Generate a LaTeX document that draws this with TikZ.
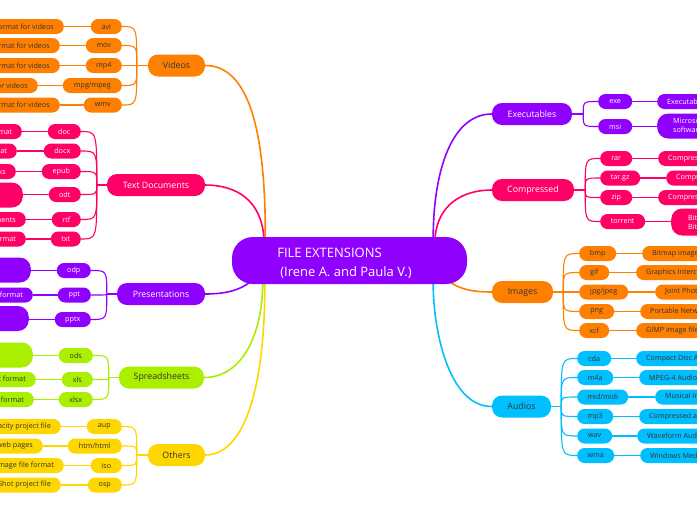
\documentclass[tikz,border=0pt]{standalone}
\usepackage{fontspec}
\setmainfont{Open Sans}
\usetikzlibrary{calc}
\pgfdeclarelayer{bg}
\pgfdeclarelayer{canvas}
\pgfsetlayers{canvas,bg,main}
\definecolor{cOr}{HTML}{FF8000}
\definecolor{cPk}{HTML}{FF0066}
\definecolor{cPu}{HTML}{9000FF}
\definecolor{cLi}{HTML}{AAEE00}
\definecolor{cYe}{HTML}{FFD700}
\definecolor{cCy}{HTML}{00BFFF}
\definecolor{txtD}{HTML}{333333}
\tikzset{
  base/.style={rectangle, inner sep=0pt, align=center},
  root/.style={base, fill=cPu, text=white, minimum width=235pt, minimum height=47pt,
    rounded corners=21pt, align=left, font=\fontsize{13}{19}\selectfont},
  branch/.style={base, minimum height=22pt, rounded corners=10pt, font=\fontsize{8.8}{10}\selectfont},
  ext/.style={base, minimum height=15pt, rounded corners=7.3pt, font=\fontsize{7.2}{8.8}\selectfont},
  lext/.style={ext, anchor=east},
  rext/.style={ext, anchor=west},
  lleaf/.style={ext, anchor=east, inner xsep=10pt},
  rleaf/.style={ext, anchor=west, inner xsep=10pt},
  tall/.style={minimum height=25pt, rounded corners=11pt},
  gOr/.style={fill=cOr, text=txtD},
  gPk/.style={fill=cPk, text=white},
  gPu/.style={fill=cPu, text=white},
  gLi/.style={fill=cLi, text=txtD},
  gYe/.style={fill=cYe, text=txtD},
  gCy/.style={fill=cCy, text=txtD},
  mainline/.style={line width=1.6pt},
  subline/.style={line width=1.1pt}
}
\begin{document}
\begin{tikzpicture}[x=1pt,y=-1pt]
\useasboundingbox (0,0) rectangle (697,520);
\begin{pgfonlayer}{canvas}
\fill[white] (0,0) rectangle (697,520);
\end{pgfonlayer}
\begin{scope}
\clip (0,0) rectangle (697,520);
% root
\node[root] (root) at (349.5,260.5) {\rule{0pt}{15pt}FILE EXTENSIONS\\\hspace*{3pt}(Irene A. and Paula V.)\hspace*{10pt}};

% ---------- Videos
\node[branch,gOr,minimum width=57pt] (videos) at (176.5,65.5) {Videos};
\node[lext,gOr,minimum width=31pt] (avi) at (122,26.5) {avi};
\node[lext,gOr,minimum width=36pt] (mov) at (122,45.5) {mov};
\node[lext,gOr,minimum width=36pt] (mpfour) at (122,65.5) {mp4};
\node[lext,gOr,minimum width=59pt] (mpg) at (122,85.5) {mpg/mpeg};
\node[lext,gOr,minimum width=38pt] (wmv) at (122,105) {wmv};
\node[lleaf,gOr] (avil) at (64,26.5) {format for videos};
\node[lleaf,gOr] (movl) at (60,45.5) {format for videos};
\node[lleaf,gOr] (mpfourl) at (60,65.5) {format for videos};
\node[lleaf,gOr] (mpgl) at (38,85.5) {for videos};
\node[lleaf,gOr] (wmvl) at (60,105) {format for videos};

% ---------- Text Documents
\node[branch,gPk,minimum width=98pt] (textdocs) at (156,185) {Text Documents};
\node[lext,gPk,minimum width=33pt] (doc) at (81,131.5) {doc};
\node[lext,gPk,minimum width=37pt] (docx) at (81,151) {docx};
\node[lext,gPk,minimum width=39pt] (epub) at (81,171.5) {epub};
\node[lext,gPk,minimum width=32pt] (odt) at (81,194.5) {odt};
\node[lext,gPk,minimum width=29pt] (rtf) at (81,219.5) {rtf};
\node[lext,gPk,minimum width=30pt] (txt) at (81,239) {txt};
\node[lleaf,gPk] (docl) at (22,131.5) {format};
\node[lleaf,gPk] (docxl) at (17,151) {format};
\node[lleaf,gPk] (epubl) at (16,171.5) {ebooks};
\node[lleaf,gPk,tall,minimum width=90pt] (odtl) at (23,195) {};
\node[lleaf,gPk] (rtfl) at (26,219.5) {documents};
\node[lleaf,gPk] (txtl) at (26,239) {format};

% ---------- Presentations
\node[branch,gPu,minimum width=88pt] (pres) at (161,294) {Presentations};
\node[lext,gPu,minimum width=34pt] (odp) at (91,270.5) {odp};
\node[lext,gPu,minimum width=33pt] (ppt) at (91,295) {ppt};
\node[lext,gPu,minimum width=36pt] (pptx) at (91,319.5) {pptx};
\node[lleaf,gPu,tall,minimum width=90pt] (odpl) at (31,270) {};
\node[lleaf,gPu] (pptl) at (33,295) {format};
\node[lleaf,gPu,tall,minimum width=90pt] (pptxl) at (29,318.5) {};

% ---------- Spreadsheets
\node[branch,gLi,minimum width=85pt] (sheets) at (161.5,377.5) {Spreadsheets};
\node[lext,gLi,minimum width=34pt] (ods) at (93,355.5) {ods};
\node[lext,gLi,minimum width=31pt] (xls) at (93,379.5) {xls};
\node[lext,gLi,minimum width=34pt] (xlsx) at (93,399.5) {xlsx};
\node[lleaf,gLi,tall,minimum width=90pt] (odsl) at (33,355) {};
\node[lleaf,gLi] (xlsl) at (36,379.5) {spreadsheet format};
\node[lleaf,gLi] (xlsxl) at (34,399.5) {format};

% ---------- Others
\node[branch,gYe,minimum width=57pt] (others) at (176.5,455) {Others};
\node[lext,gYe,minimum width=35pt] (aup) at (122,426.5) {aup};
\node[lext,gYe,minimum width=54pt] (htm) at (122,446) {htm/html};
\node[lext,gYe,minimum width=31pt] (iso) at (122,465.5) {iso};
\node[lext,gYe,minimum width=34pt] (osp) at (122,485) {osp};
\node[lleaf,gYe] (aupl) at (61,426.5) {Audacity project file};
\node[lleaf,gYe] (html) at (43,446) {Format for web pages};
\node[lleaf,gYe] (isol) at (64,465.5) {Disc image file format};
\node[lleaf,gYe] (ospl) at (61,485) {OpenShot project file};

% ---------- Executables
\node[branch,gPu,minimum width=80pt] (execs) at (532,114) {Executables};
\node[rext,gPu,minimum width=34pt] (exe) at (598,101.5) {exe};
\node[rext,gPu,minimum width=34pt] (msi) at (598,126.5) {msi};
\node[rleaf,gPu] (exel) at (657,101.5) {Executable file};
\node[rleaf,gPu,tall,inner xsep=16pt,align=left] (msil) at (657,126) {Microsoft installer\\software package};

% ---------- Compressed
\node[branch,gPk,minimum width=82pt] (compr) at (533,190) {Compressed};
\node[rext,gPk,minimum width=32pt] (rar) at (600,158.5) {rar};
\node[rext,gPk,minimum width=40pt] (targz) at (600,178) {tar.gz};
\node[rext,gPk,minimum width=32pt] (zip) at (600,197.5) {zip};
\node[rext,gPk,minimum width=45pt] (torrent) at (600,221.5) {torrent};
\node[rleaf,gPk] (rarl) at (658,158.5) {Compressed file};
\node[rleaf,gPk] (targzl) at (666,178) {Compressed file};
\node[rleaf,gPk] (zipl) at (658,197.5) {Compressed file};
\node[rleaf,gPk,tall,minimum height=27pt,inner xsep=17pt,align=left] (torrentl) at (671,222) {BitTorrent file\\BitTorrent client};

% ---------- Images
\node[branch,gOr,minimum width=61pt] (images) at (522.5,292) {Images};
\node[rext,gOr,minimum width=37pt] (bmp) at (579,253.5) {bmp};
\node[rext,gOr,minimum width=30pt] (gif) at (579,272.5) {gif};
\node[rext,gOr,minimum width=49pt] (jpg) at (579,292) {jpg/jpeg};
\node[rext,gOr,minimum width=35pt] (png) at (579,311.5) {png};
\node[rext,gOr,minimum width=30pt] (xcf) at (579,330.5) {xcf};
\node[rleaf,gOr] (bmpl) at (642,253.5) {Bitmap image file};
\node[rleaf,gOr] (gifl) at (636,272.5) {Graphics Interchange Format};
\node[rleaf,gOr] (jpgl) at (655,292) {Joint Photographic Experts Group};
\node[rleaf,gOr] (pngl) at (640,311.5) {Portable Network Graphics};
\node[rleaf,gOr] (xcfl) at (636,330.5) {GIMP image file};

% ---------- Audios
\node[branch,gCy,minimum width=59pt] (audios) at (521.5,406.5) {Audios};
\node[rext,gCy,minimum width=34pt] (cda) at (577,358.5) {cda};
\node[rext,gCy,minimum width=36pt] (mfoura) at (577,377.5) {m4a};
\node[rext,gCy,minimum width=51pt] (mid) at (577,397) {mid/midi};
\node[rext,gCy,minimum width=36pt] (mpthree) at (577,416.5) {mp3};
\node[rext,gCy,minimum width=35pt] (wav) at (577,436) {wav};
\node[rext,gCy,minimum width=37pt] (wma) at (577,455.5) {wma};
\node[rleaf,gCy] (cdal) at (636,358.5) {Compact Disc Audio};
\node[rleaf,gCy] (mfoural) at (639,377.5) {MPEG-4 Audio};
\node[rleaf,gCy] (midl) at (655,397) {Musical Instrument Digital Interface};
\node[rleaf,gCy] (mpthreel) at (639,416.5) {Compressed audio};
\node[rleaf,gCy] (wavl) at (637,436) {Waveform Audio};
\node[rleaf,gCy] (wmal) at (640,455.5) {Windows Media Audio};
\end{scope}

\begin{pgfonlayer}{bg}
% main connectors
\draw[mainline,cOr] (videos.east) .. controls (247,65.5) and (265.5,125) .. ($(root.north west)+(33.5,0)$);
\draw[mainline,cPk] (textdocs.east) .. controls (236,185) and (261,200) .. ($(root.north west)+(32,0)$);
\draw[mainline,cPu] (pres.east) .. controls (226,294) and (240,290) .. ($(root.south west)+(18,-2)$);
\draw[mainline,cLi] (sheets.east) .. controls (242,377.5) and (262,335) .. ($(root.south west)+(31,0)$);
\draw[mainline,cYe] (others.east) .. controls (247,455) and (265,380) .. ($(root.south west)+(33,0)$);
\draw[mainline,cPu] (execs.west) .. controls (452,114) and (433.5,170) .. ($(root.north east)+(-34,0)$);
\draw[mainline,cPk] (compr.west) .. controls (462,190) and (438,205) .. ($(root.north east)+(-32,0)$);
\draw[mainline,cOr] (images.west) .. controls (472,292) and (460,289) .. ($(root.south east)+(-17,-2)$);
\draw[mainline,cCy] (audios.west) .. controls (447,406.5) and (433,325) .. ($(root.south east)+(-34,0)$);

% junctions
\coordinate (jV) at ($(videos.west)+(-11,0)$);
\coordinate (jT) at ($(textdocs.west)+(-10,0)$);
\coordinate (jP) at ($(pres.west)+(-10,0)$);
\coordinate (jS) at ($(sheets.west)+(-10,0)$);
\coordinate (jO) at ($(others.west)+(-11,0)$);
\coordinate (jE) at ($(execs.east)+(11,0)$);
\coordinate (jC) at ($(compr.east)+(11,0)$);
\coordinate (jI) at ($(images.east)+(10,0)$);
\coordinate (jA) at ($(audios.east)+(10,0)$);

\draw[subline,cOr] (videos.west) -- (jV);
\foreach \c in {avi,mov,mpfour,mpg,wmv}{
  \draw[subline,cOr] (\c.east) .. controls (jV |- \c.east) .. (jV);
  \draw[subline,cOr] (\c.west) -- (\c l.east);}
\draw[subline,cPk] (textdocs.west) -- (jT);
\foreach \c in {doc,docx,epub,odt,rtf,txt}{
  \draw[subline,cPk] (\c.east) .. controls (jT |- \c.east) .. (jT);
  \draw[subline,cPk] (\c.west) -- (\c l.east |- \c.west);}
\draw[subline,cPu] (pres.west) -- (jP);
\foreach \c in {odp,ppt,pptx}{
  \draw[subline,cPu] (\c.east) .. controls (jP |- \c.east) .. (jP);
  \draw[subline,cPu] (\c.west) -- (\c l.east |- \c.west);}
\draw[subline,cLi] (sheets.west) -- (jS);
\foreach \c in {ods,xls,xlsx}{
  \draw[subline,cLi] (\c.east) .. controls (jS |- \c.east) .. (jS);
  \draw[subline,cLi] (\c.west) -- (\c l.east |- \c.west);}
\draw[subline,cYe] (others.west) -- (jO);
\foreach \c in {aup,htm,iso,osp}{
  \draw[subline,cYe] (\c.east) .. controls (jO |- \c.east) .. (jO);
  \draw[subline,cYe] (\c.west) -- (\c l.east);}
\draw[subline,cPu] (execs.east) -- (jE);
\foreach \c in {exe,msi}{
  \draw[subline,cPu] (\c.west) .. controls (jE |- \c.west) .. (jE);
  \draw[subline,cPu] (\c.east) -- (\c l.west |- \c.east);}
\draw[subline,cPk] (compr.east) -- (jC);
\foreach \c in {rar,targz,zip,torrent}{
  \draw[subline,cPk] (\c.west) .. controls (jC |- \c.west) .. (jC);
  \draw[subline,cPk] (\c.east) -- (\c l.west |- \c.east);}
\draw[subline,cOr] (images.east) -- (jI);
\foreach \c in {bmp,gif,jpg,png,xcf}{
  \draw[subline,cOr] (\c.west) .. controls (jI |- \c.west) .. (jI);
  \draw[subline,cOr] (\c.east) -- (\c l.west);}
\draw[subline,cCy] (audios.east) -- (jA);
\foreach \c in {cda,mfoura,mid,mpthree,wav,wma}{
  \draw[subline,cCy] (\c.west) .. controls (jA |- \c.west) .. (jA);
  \draw[subline,cCy] (\c.east) -- (\c l.west);}
\end{pgfonlayer}
\end{tikzpicture}
\end{document}
